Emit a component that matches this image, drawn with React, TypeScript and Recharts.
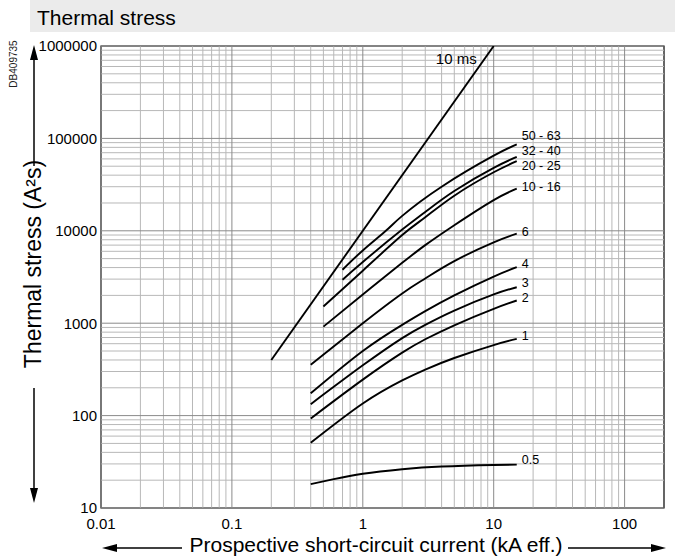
import React from 'react';
import { LineChart, Line, XAxis, YAxis, ReferenceLine, ReferenceArea } from 'recharts';

// ---- Data ----
const xTicks = [0.01, 0.1, 1, 10, 100];
const yTicks = [10, 100, 1000, 10000, 100000, 1000000];
const minorMultipliers = [2, 3, 4, 5, 6, 7, 8, 9];
const xDecades = [0.01, 0.1, 1, 10, 100];
const yDecades = [10, 100, 1000, 10000, 100000];

const current10ms = [0.2, 10];
const stress10ms = [400, 1000000];

const current5063 = [0.7, 1, 1.5, 2, 4, 10, 15];
const stress5063 = [3790, 6130, 10000, 14500, 30000, 65000, 86000];

const current3240 = [0.7, 1, 2, 3, 5, 10, 15];
const stress3240 = [2950, 4600, 10300, 16000, 27000, 48000, 63000];

const current2025 = [0.5, 1, 2, 3, 5, 10, 15];
const stress2025 = [1514, 3700, 9000, 14000, 24000, 43000, 56600];

const current1016 = [0.5, 1, 2, 3, 5, 10, 15];
const stress1016 = [918, 2050, 4500, 7000, 11500, 21500, 28600];

const current6 = [0.4, 1, 2, 3, 5, 10, 15];
const stress6 = [356, 1000, 2100, 3050, 4700, 7500, 9300];

const current4 = [0.4, 1, 2, 3, 5, 10, 15];
const stress4 = [174, 500, 960, 1350, 2000, 3200, 4040];

const current3 = [0.4, 1, 2, 3, 5, 10, 15];
const stress3 = [133, 350, 690, 960, 1370, 2050, 2450];

const current2 = [0.4, 1, 2, 3, 5, 10, 15];
const stress2 = [93, 245, 480, 670, 950, 1430, 1760];

const current1 = [0.4, 1, 2, 3, 5, 10, 15];
const stress1 = [50.7, 135, 240, 315, 420, 580, 676];

const current05 = [0.4, 0.6, 1, 2, 4, 10, 15];
const stress05 = [18.1, 20.5, 23.5, 26.3, 28.1, 29.2, 29.5];

const seriesNames = ['10 ms', '50 - 63', '32 - 40', '20 - 25', '10 - 16', '6', '4', '3', '2', '1', '0.5'];
const seriesCurrents = [current10ms, current5063, current3240, current2025, current1016, current6, current4, current3, current2, current1, current05];
const seriesStress = [stress10ms, stress5063, stress3240, stress2025, stress1016, stress6, stress4, stress3, stress2, stress1, stress05];

// label placement (style, not data)
const labelOffsets: Record<string, [number, number, 'start' | 'end']> = {
  '10 ms': [-17, 13, 'end'],
  '50 - 63': [5, -9, 'start'],
  '32 - 40': [5, -6, 'start'],
  '20 - 25': [5, 4, 'start'],
  '10 - 16': [5, -2, 'start'],
  '6': [5, -2, 'start'],
  '4': [5, -4, 'start'],
  '3': [5, -5, 'start'],
  '2': [5, -3, 'start'],
  '1': [5, -3, 'start'],
  '0.5': [5, -5, 'start'],
};

const FONT = '"Liberation Sans", Arial, Helvetica, sans-serif';

const series = seriesNames.map((name, i) => ({
  name,
  data: seriesCurrents[i].map((x, j) => ({ x, y: seriesStress[i][j] })),
}));

const minorX: number[] = [];
xDecades.forEach((d) => minorMultipliers.forEach((m) => { if (d * m < 200) minorX.push(d * m); }));
const minorY: number[] = [];
yDecades.forEach((d) => minorMultipliers.forEach((m) => minorY.push(d * m)));

const MINOR = '#b8b8b8';
const MAJOR = '#8a8a8a';

export default function App() {
  return (
    <div style={{ position: 'absolute', left: 0, top: 0, width: 675, height: 560, background: '#fff', fontFamily: FONT }}>
      <div style={{ position: 'absolute', left: 30, top: 0, width: 645, height: 32, background: '#ebebeb' }} />
      <svg width={675} height={560} style={{ position: 'absolute', left: 0, top: 0 }}>
        <text x={37} y={25} fontSize={21} fontFamily={FONT} fill="#000">Thermal stress</text>
      </svg>
      <div style={{ position: 'absolute', left: 0, top: 0 }}>
        <LineChart width={675} height={560} margin={{ top: 46, right: 11, bottom: 32, left: 11 }}>
          <XAxis
            type="number"
            dataKey="x"
            scale="log"
            domain={[0.01, 200]}
            ticks={xTicks}
            allowDataOverflow
            tickLine={false}
            axisLine={false}
            tickSize={0}
            tickMargin={10}
            height={20}
            tickFormatter={(v: number) => String(v)}
            tick={{ fontSize: 15, fill: '#000', fontFamily: FONT }}
          />
          <YAxis
            type="number"
            dataKey="y"
            scale="log"
            domain={[10, 1000000]}
            ticks={yTicks}
            allowDataOverflow
            tickLine={false}
            axisLine={false}
            tickSize={0}
            tickMargin={4}
            width={90}
            tickFormatter={(v: number) => String(v)}
            tick={{ fontSize: 15, fill: '#000', fontFamily: FONT }}
          />
          {minorX.map((v) => (
            <ReferenceLine key={'mx' + v} x={v} stroke={MINOR} strokeWidth={1} />
          ))}
          {minorY.map((v) => (
            <ReferenceLine key={'my' + v} y={v} stroke={MINOR} strokeWidth={1} />
          ))}
          {xTicks.map((v) => (
            <ReferenceLine key={'Mx' + v} x={v} stroke={MAJOR} strokeWidth={1} />
          ))}
          {yTicks.map((v) => (
            <ReferenceLine key={'My' + v} y={v} stroke={MAJOR} strokeWidth={1} />
          ))}
          <ReferenceArea x1={0.01} x2={200} y1={10} y2={1000000} fill="none" stroke="#000" strokeWidth={1.2} ifOverflow="visible" />
          {series.map((s) => {
            const [dx, dy, anchor] = labelOffsets[s.name];
            const last = s.data.length - 1;
            return (
              <Line
                key={s.name}
                data={s.data}
                dataKey="y"
                type="natural"
                stroke="#000"
                strokeWidth={1.9}
                dot={false}
                activeDot={false}
                isAnimationActive={false}
                label={(p: any) =>
                  p.index === last ? (
                    <text
                      key={s.name + 'lbl'}
                      x={p.x + dx}
                      y={p.y + dy}
                      dy="0.35em"
                      textAnchor={anchor}
                      fontSize={s.name === '10 ms' ? 15 : 12.5}
                      fontFamily={FONT}
                      fill="#000"
                    >
                      {s.name}
                    </text>
                  ) : (
                    <g key={s.name + 'n' + p.index} />
                  )
                }
              />
            );
          })}
        </LineChart>
      </div>
      <svg width={675} height={560} style={{ position: 'absolute', left: 0, top: 0, pointerEvents: 'none' }}>
        <text x={0} y={0} transform="translate(17,64) rotate(-90)" textAnchor="middle" fontSize={10} fontFamily={FONT} fill="#222">DB409735</text>
        <text x={0} y={0} transform="translate(41,264) rotate(-90)" textAnchor="middle" fontSize={23} fontFamily={FONT} fill="#000">Thermal stress (A²s)</text>
        {/* y arrows */}
        <line x1={34} y1={166} x2={34} y2={56} stroke="#000" strokeWidth={1.5} />
        <polygon points="34,45 30,60 38,60" fill="#000" />
        <line x1={34} y1={388} x2={34} y2={492} stroke="#000" strokeWidth={1.5} />
        <polygon points="34,503 30,488 38,488" fill="#000" />
        {/* x title */}
        <text x={376} y={552} textAnchor="middle" fontSize={21} fontFamily={FONT} fill="#000">Prospective short-circuit current (kA eff.)</text>
        <line x1={112} y1={548} x2={182} y2={548} stroke="#000" strokeWidth={1.5} />
        <polygon points="102,548 117,544 117,552" fill="#000" />
        <line x1={568} y1={548} x2={656} y2={548} stroke="#000" strokeWidth={1.5} />
        <polygon points="666,548 651,544 651,552" fill="#000" />
      </svg>
    </div>
  );
}
